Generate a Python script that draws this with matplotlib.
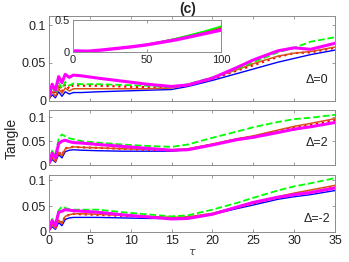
import matplotlib
matplotlib.use('Agg')
import matplotlib.pyplot as plt

plt.rcParams['font.family'] = ['Liberation Sans', 'DejaVu Sans']

# time grid (tau) shared by all panels
tau = [0, 0.4, 0.8, 1.2, 1.6, 2, 2.5, 3, 4, 6, 9, 12, 15, 17, 20, 23, 25, 28, 30, 32, 35]

# Delta = 0
d0_blue = [0.002, 0.008, 0.004, 0.012, 0.006, 0.012, 0.009, 0.011, 0.011, 0.012, 0.013, 0.014, 0.015, 0.019, 0.027, 0.036, 0.042, 0.051, 0.056, 0.061, 0.067]
d0_red = [0.003, 0.015, 0.008, 0.022, 0.012, 0.022, 0.016, 0.021, 0.020, 0.020, 0.019, 0.018, 0.018, 0.021, 0.029, 0.040, 0.047, 0.058, 0.063, 0.064, 0.070]
d0_orange = [0.002, 0.012, 0.006, 0.016, 0.010, 0.017, 0.013, 0.016, 0.016, 0.016, 0.016, 0.016, 0.017, 0.021, 0.030, 0.041, 0.049, 0.059, 0.063, 0.065, 0.071]
d0_green = [0.004, 0.018, 0.010, 0.024, 0.016, 0.025, 0.020, 0.023, 0.022, 0.022, 0.021, 0.020, 0.018, 0.022, 0.031, 0.042, 0.051, 0.064, 0.070, 0.078, 0.084]
d0_magenta = [0.006, 0.022, 0.014, 0.032, 0.024, 0.035, 0.031, 0.034, 0.033, 0.030, 0.026, 0.022, 0.019, 0.021, 0.030, 0.044, 0.054, 0.066, 0.070, 0.068, 0.076]

# Delta = 2
d2_blue = [0.002, 0.012, 0.006, 0.022, 0.015, 0.028, 0.031, 0.032, 0.031, 0.030, 0.029, 0.029, 0.029, 0.032, 0.042, 0.053, 0.059, 0.068, 0.074, 0.080, 0.089]
d2_red = [0.003, 0.016, 0.008, 0.028, 0.020, 0.035, 0.037, 0.038, 0.037, 0.036, 0.034, 0.032, 0.031, 0.033, 0.043, 0.054, 0.060, 0.071, 0.078, 0.084, 0.094]
d2_orange = [0.003, 0.015, 0.008, 0.027, 0.019, 0.034, 0.036, 0.038, 0.037, 0.036, 0.034, 0.033, 0.032, 0.034, 0.044, 0.055, 0.061, 0.073, 0.081, 0.087, 0.097]
d2_green = [0.005, 0.030, 0.020, 0.055, 0.064, 0.060, 0.056, 0.054, 0.050, 0.047, 0.043, 0.040, 0.038, 0.043, 0.057, 0.070, 0.079, 0.090, 0.096, 0.099, 0.105]
d2_magenta = [0.004, 0.025, 0.015, 0.045, 0.050, 0.052, 0.049, 0.047, 0.046, 0.043, 0.039, 0.035, 0.031, 0.032, 0.042, 0.053, 0.058, 0.068, 0.075, 0.080, 0.089]

# Delta = -2
dm2_blue = [0.002, 0.010, 0.005, 0.018, 0.012, 0.024, 0.027, 0.028, 0.028, 0.028, 0.027, 0.026, 0.026, 0.027, 0.034, 0.045, 0.052, 0.063, 0.068, 0.072, 0.080]
dm2_red = [0.003, 0.014, 0.007, 0.024, 0.017, 0.030, 0.033, 0.035, 0.034, 0.033, 0.031, 0.029, 0.027, 0.028, 0.035, 0.047, 0.055, 0.066, 0.072, 0.077, 0.086]
dm2_orange = [0.003, 0.013, 0.007, 0.023, 0.016, 0.030, 0.033, 0.035, 0.035, 0.034, 0.032, 0.030, 0.028, 0.029, 0.036, 0.048, 0.057, 0.068, 0.075, 0.081, 0.090]
dm2_green = [0.005, 0.025, 0.015, 0.042, 0.049, 0.046, 0.044, 0.043, 0.043, 0.043, 0.038, 0.034, 0.030, 0.032, 0.043, 0.056, 0.066, 0.080, 0.088, 0.094, 0.104]
dm2_magenta = [0.004, 0.022, 0.012, 0.038, 0.040, 0.043, 0.042, 0.041, 0.040, 0.038, 0.033, 0.029, 0.025, 0.026, 0.034, 0.048, 0.057, 0.067, 0.072, 0.076, 0.085]

# inset (long time, Delta = 0)
tau_long = [0, 10, 20, 30, 40, 50, 60, 70, 80, 90, 100]
long_blue = [0.015, 0.010, 0.030, 0.055, 0.080, 0.112, 0.155, 0.20, 0.25, 0.31, 0.37]
long_red = [0.015, 0.010, 0.030, 0.055, 0.080, 0.114, 0.158, 0.205, 0.26, 0.32, 0.38]
long_orange = [0.015, 0.010, 0.030, 0.055, 0.080, 0.114, 0.158, 0.205, 0.26, 0.32, 0.385]
long_green = [0.015, 0.010, 0.030, 0.055, 0.080, 0.115, 0.160, 0.210, 0.27, 0.33, 0.40]
long_magenta = [0.015, 0.010, 0.030, 0.055, 0.080, 0.110, 0.150, 0.190, 0.24, 0.29, 0.34]

panels = [
    ('\u0394=0', [d0_blue, d0_red, d0_orange, d0_green, d0_magenta], 0.112, 0.247),
    ('\u0394=2', [d2_blue, d2_red, d2_orange, d2_green, d2_magenta], 0.115, 0.40),
    ('\u0394=-2', [dm2_blue, dm2_red, dm2_orange, dm2_green, dm2_magenta], 0.110, 0.228),
]
styles = [('#0000FF', '-', 1.0), ('#FF0000', ':', 1.6), ('#D95319', '-', 1.1),
          ('#00FF00', '--', 1.3), ('#FF00FF', '-', 2.2)]
boxes = [[0.140, 0.615, 0.820, 0.324],
         [0.140, 0.370, 0.820, 0.210],
         [0.140, 0.115, 0.820, 0.217]]

edge = '#8c8c8c'
fig = plt.figure(figsize=(3.49, 2.62), dpi=100)
axes = []
for box, (label, series, ytop, ly) in zip(boxes, panels):
    ax = fig.add_axes(box)
    for y, (c, ls, lw) in zip(series, styles):
        ax.plot(tau, y, color=c, linestyle=ls, linewidth=lw)
    ax.set_xlim(0, 35)
    ax.set_ylim(0, ytop)
    ax.set_xticks(range(0, 36, 5))
    ax.set_yticks([0, 0.05, 0.1])
    ax.set_yticklabels(['0', '0.05', '0.1'])
    ax.tick_params(direction='in', length=2.5, width=0.6, top=True, right=True,
                   labelsize=9, colors=edge, labelcolor='#222222', pad=2)
    for s in ax.spines.values():
        s.set_color(edge)
        s.set_linewidth(0.7)
    ax.text(0.935, ly, label, transform=ax.transAxes, ha='center', va='center',
            fontsize=9, color='#222222')
    axes.append(ax)

axes[0].tick_params(labelbottom=False)
axes[1].tick_params(labelbottom=False)
axes[2].set_xlabel(r'$\tau$', fontsize=8, labelpad=0, color='#444444')
fig.text(0.035, 0.47, 'Tangle', rotation=90, ha='center', va='center',
         fontsize=10, color='#222222')
fig.text(0.537, 0.965, '(c)', ha='center', va='center', fontsize=10,
         fontweight='bold', color='#222222')

# inset
ins = fig.add_axes([0.209, 0.802, 0.424, 0.122])
inset_widths = [1.2, 1.2, 1.2, 1.2, 2.4]
for y, (c, ls, lw), w in zip([long_blue, long_red, long_orange, long_green, long_magenta],
                             styles, inset_widths):
    ins.plot(tau_long, y, color=c, linestyle='-', linewidth=w)
ins.set_xlim(0, 100)
ins.set_ylim(0, 0.5)
ins.set_xticks([0, 50, 100])
ins.set_yticks([0, 0.5])
ins.set_yticklabels(['0', '0.5'])
ins.tick_params(direction='in', length=2, width=0.6, top=True, right=True,
                labelsize=8, colors=edge, labelcolor='#222222', pad=2)
for s in ins.spines.values():
    s.set_color(edge)
    s.set_linewidth(0.7)

fig.savefig('out.png', dpi=100)
